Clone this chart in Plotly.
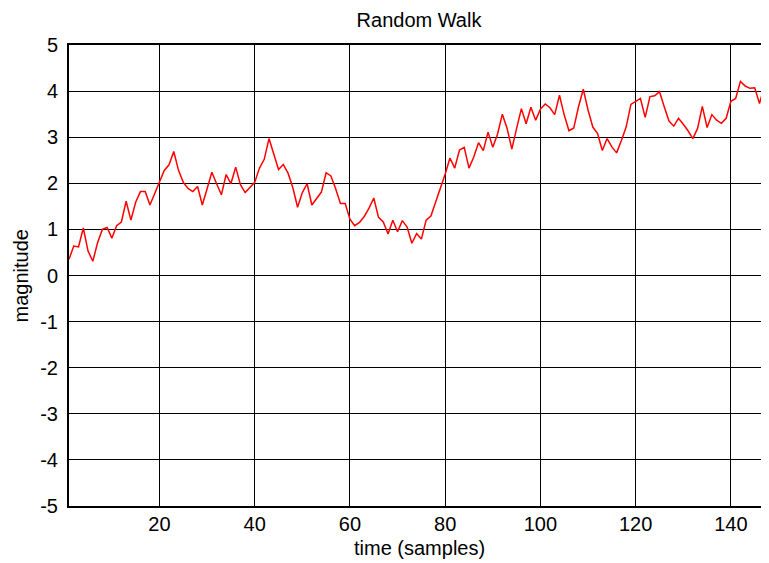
import plotly.graph_objects as go

samples = list(range(1, 149))
magnitude = [
    0.35, 0.64, 0.62, 1.03, 0.53, 0.31, 0.71, 1.00, 1.04, 0.81,
    1.08, 1.16, 1.61, 1.20, 1.59, 1.82, 1.82, 1.53, 1.78, 2.02,
    2.28, 2.40, 2.69, 2.28, 2.02, 1.89, 1.82, 1.93, 1.53, 1.88,
    2.24, 1.99, 1.75, 2.19, 1.99, 2.35, 1.97, 1.80, 1.91, 2.02,
    2.33, 2.52, 2.97, 2.64, 2.30, 2.41, 2.22, 1.91, 1.48, 1.80,
    1.99, 1.53, 1.67, 1.81, 2.23, 2.16, 1.88, 1.56, 1.56, 1.22,
    1.08, 1.15, 1.28, 1.46, 1.68, 1.26, 1.16, 0.90, 1.20, 0.95,
    1.19, 1.05, 0.70, 0.91, 0.79, 1.20, 1.29, 1.59, 1.88, 2.20,
    2.55, 2.33, 2.72, 2.78, 2.33, 2.57, 2.88, 2.71, 3.11, 2.78,
    3.07, 3.50, 3.19, 2.74, 3.19, 3.62, 3.29, 3.65, 3.37, 3.61,
    3.72, 3.64, 3.49, 3.91, 3.48, 3.14, 3.20, 3.66, 4.04, 3.59,
    3.22, 3.08, 2.71, 2.97, 2.79, 2.66, 2.93, 3.22, 3.71, 3.77,
    3.84, 3.43, 3.88, 3.90, 3.99, 3.66, 3.35, 3.24, 3.41, 3.28,
    3.14, 2.97, 3.19, 3.67, 3.21, 3.49, 3.37, 3.30, 3.41, 3.78,
    3.84, 4.21, 4.11, 4.06, 4.07, 3.73, 4.10, 4.21,
]
x_ticks = [20, 40, 60, 80, 100, 120, 140]
x_tick_labels = ["20", "40", "60", "80", "100", "120", "140"]
y_ticks = [-5, -4, -3, -2, -1, 0, 1, 2, 3, 4, 5]
y_tick_labels = ["-5", "-4", "-3", "-2", "-1", "0", "1", "2", "3", "4", "5"]

FONT = "Liberation Sans, Arial, Helvetica, sans-serif"
FS = 20

# the page body adds an 8px offset; sizes below are in figure pixels
W, H = 761, 555
L, R, T, B = 61, 0, 37, 57
PLOT_H = H - T - B
PLOT_W = W - L - R

fig = go.Figure()
fig.add_trace(go.Scatter(
    x=samples, y=magnitude, mode="lines",
    line=dict(color="#ff0000", width=1.5),
    showlegend=False, hoverinfo="skip",
))

fig.update_layout(
    width=W, height=H,
    margin=dict(l=L, r=R, t=T, b=B, autoexpand=False),
    paper_bgcolor="white", plot_bgcolor="white",
    font=dict(family=FONT, size=FS, color="black"),
    title=dict(text="Random Walk", x=0.5, xref="paper", xanchor="center",
               y=1 - 12 / H, yref="container", yanchor="middle",
               automargin=False,
               font=dict(family=FONT, size=FS, color="black")),
    xaxis=dict(range=[1, 148], tickvals=x_ticks, ticktext=x_tick_labels,
               showgrid=True, gridcolor="black", gridwidth=1, zeroline=False,
               showline=True, linecolor="black", linewidth=2, mirror=True,
               ticks="", tickfont=dict(size=FS), ticklabelstandoff=-1,
               automargin=False),
    yaxis=dict(range=[-5, 5], tickvals=y_ticks, ticktext=y_tick_labels,
               showgrid=True, gridcolor="black", gridwidth=1, zeroline=False,
               showline=True, linecolor="black", linewidth=2, mirror=True,
               ticks="", tickfont=dict(size=FS), ticklabelstandoff=5,
               automargin=False),
    annotations=[
        dict(text="time (samples)", xref="paper", yref="paper",
             x=0.5, y=-42 / PLOT_H, xanchor="center", yanchor="middle",
             showarrow=False, font=dict(family=FONT, size=FS)),
        dict(text="magnitude", xref="paper", yref="paper",
             x=(12 - L) / PLOT_W, y=0.5, xanchor="center", yanchor="middle",
             textangle=-90, showarrow=False, font=dict(family=FONT, size=FS)),
    ],
)

fig.write_html("out.html")
